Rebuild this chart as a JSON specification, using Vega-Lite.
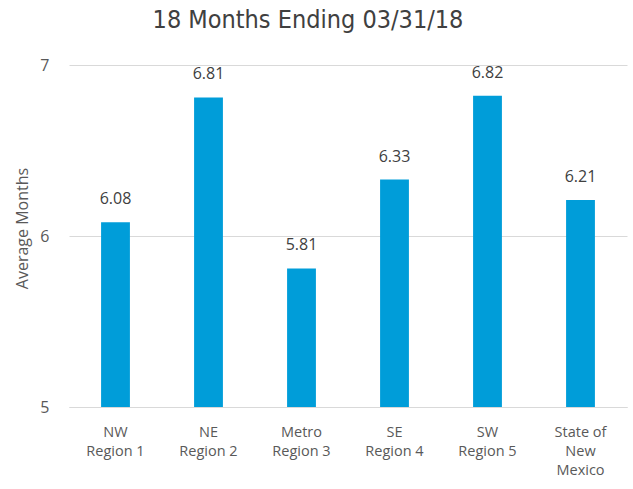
{
  "$schema": "https://vega.github.io/schema/vega-lite/v6.json",
  "autosize": {"type": "none"},
  "width": 558,
  "height": 342,
  "padding": {"left": 69, "top": 65, "right": 6, "bottom": 82},
  "background": "white",
  "config": {"view": {"stroke": null}},
  "title": {
    "text": "18 Months Ending 03/31/18",
    "font": "DejaVu Sans Condensed",
    "fontSize": 25,
    "fontWeight": "normal",
    "color": "#404040",
    "anchor": "middle",
    "dx": -40,
    "offset": 24
  },
  "data": {
    "values": [
      {"region": "NW|Region 1", "value": 6.08},
      {"region": "NE|Region 2", "value": 6.81},
      {"region": "Metro|Region 3", "value": 5.81},
      {"region": "SE|Region 4", "value": 6.33},
      {"region": "SW|Region 5", "value": 6.82},
      {"region": "State of|New|Mexico", "value": 6.21}
    ]
  },
  "encoding": {
    "x": {
      "field": "region",
      "type": "nominal",
      "sort": null,
      "scale": {"paddingInner": 0.69, "paddingOuter": 0.345},
      "axis": {
        "title": null,
        "labelAngle": 0,
        "labelExpr": "split(datum.label, '|')",
        "labelFont": "Open Sans",
        "labelFontSize": 14.5,
        "labelColor": "#595959",
        "labelLineHeight": 19,
        "labelPadding": 18,
        "ticks": false,
        "domain": true,
        "domainColor": "#d9d9d9"
      }
    },
    "y": {
      "field": "value",
      "type": "quantitative",
      "scale": {"domain": [5, 7], "zero": false, "nice": false},
      "axis": {
        "title": "Average Months",
        "titleFont": "Open Sans",
        "titleFontSize": 16,
        "titleFontWeight": "normal",
        "titleColor": "#595959",
        "titlePadding": 9,
        "titleY": 163,
        "values": [5, 6, 7],
        "labelExpr": "format(datum.value, 'd')",
        "labelOverlap": false,
        "labelFont": "Open Sans",
        "labelFontSize": 16,
        "labelColor": "#595959",
        "labelPadding": 20,
        "ticks": false,
        "domain": false,
        "grid": true,
        "gridColor": "#d9d9d9"
      }
    }
  },
  "layer": [
    {"mark": {"type": "bar", "color": "#009DD9"}, "encoding": {"y2": {"datum": 5}}},
    {
      "mark": {"type": "text", "dy": -15, "font": "Open Sans", "fontSize": 16, "color": "#404040", "baseline": "bottom"},
      "encoding": {"text": {"field": "value", "type": "quantitative", "format": ".2f"}}
    }
  ]
}
